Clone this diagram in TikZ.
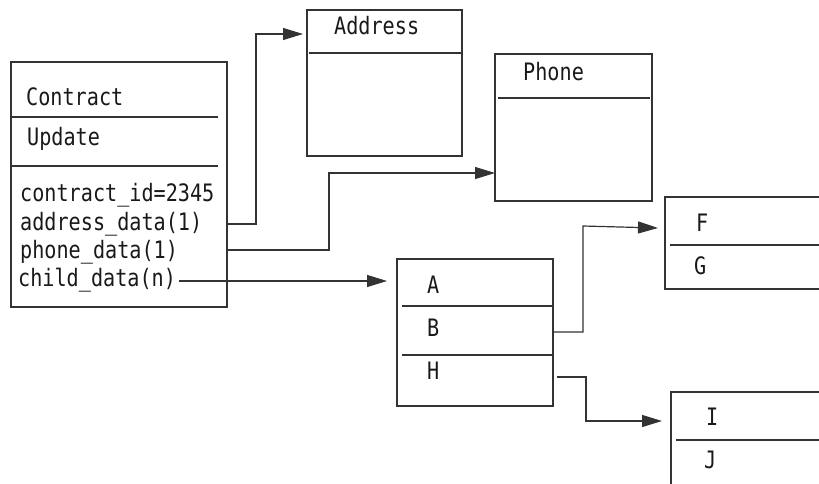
\documentclass[tikz,border=0pt]{standalone}
\usepackage{fontspec}
\newfontfamily\jf[FakeStretch=0.84]{DejaVu Sans Mono}
\usetikzlibrary{arrows.meta}
\definecolor{ln}{HTML}{333333}
\begin{document}
\begin{tikzpicture}[x=1pt,y=-1pt,
  box/.style={draw=ln,line width=1.2pt,rectangle,anchor=north west,inner sep=0pt,outer sep=0pt},
  lbl/.style={anchor=base west,inner sep=0pt,font=\jf\fontsize{24}{24}\selectfont,text=black!90},
  div/.style={draw=ln,line width=1.2pt},
  arr/.style={draw=ln,line width=1.2pt,-{Triangle[length=20pt,width=12pt]}}]
\useasboundingbox (0,0) rectangle (819,483);
% boxes
\node[box,minimum width=216pt,minimum height=245pt] (contract) at (11,62) {};
\node[box,minimum width=155pt,minimum height=146pt] (address) at (307,10) {};
\node[box,minimum width=157pt,minimum height=147pt] (phone) at (495,54) {};
\node[box,minimum width=156pt,minimum height=147pt] (abh) at (397,259) {};
\node[box,minimum width=220pt,minimum height=92pt] (fg) at (665,197) {};
\node[box,minimum width=220pt,minimum height=160pt] (ij) at (671,392) {};
% dividers
\draw[div] (contract.west |- 0,117) -- (218,117);
\draw[div] (contract.west |- 0,166) -- (218,166);
\draw[div] (309,53) -- (address.east |- 0,53);
\draw[div] (498,98) -- (650,98);
\draw[div] (402,306) -- (554,306);
\draw[div] (402,355) -- (552,355);
\draw[div] (670,245) -- (fg.east |- 0,245);
\draw[div] (676,440) -- (ij.east |- 0,440);
% texts
\node[lbl] (tcontract) at (26,105) {Contract};
\node[lbl] (tupdate) at (27,145) {Update};
\node[lbl] (tid) at (20,201) {contract\_id=2345};
\node[lbl] (taddr) at (20,230) {address\_data(1)};
\node[lbl] (tphone) at (20,258) {phone\_data(1)};
\node[lbl] (tchild) at (18,286) {child\_data(n)};
\node[lbl] (taddress) at (334,34) {Address};
\node[lbl] (tphonebox) at (523,80) {Phone};
\node[lbl] (tA) at (427,293) {A};
\node[lbl] (tB) at (427,336) {B};
\node[lbl] (tH) at (427,379) {H};
\node[lbl] (tF) at (696,231) {F};
\node[lbl] (tG) at (694,274) {G};
\node[lbl] (tI) at (706,425) {I};
\node[lbl] (tJ) at (704,468) {J};
% connectors
\draw[arr] (contract.east |- 0,224) -- (256,224) -- (256,34) -- ([xshift=-4pt]address.west |- 0,34);
\draw[arr] (contract.east |- 0,250) -- (329,250) -- (329,173) -- (phone.west |- 0,173);
\draw[arr] (179,281) -- ([xshift=-10pt]abh.west |- 0,281);
\draw[arr] (abh.east |- 0,332) -- (583,332) -- (583,226) -- ([xshift=-7pt]fg.west |- 0,228);
\draw[arr] ([xshift=4pt]abh.east |- 0,377) -- (586,377) -- (586,421) -- ([xshift=-9pt]ij.west |- 0,421);
\end{tikzpicture}
\end{document}
